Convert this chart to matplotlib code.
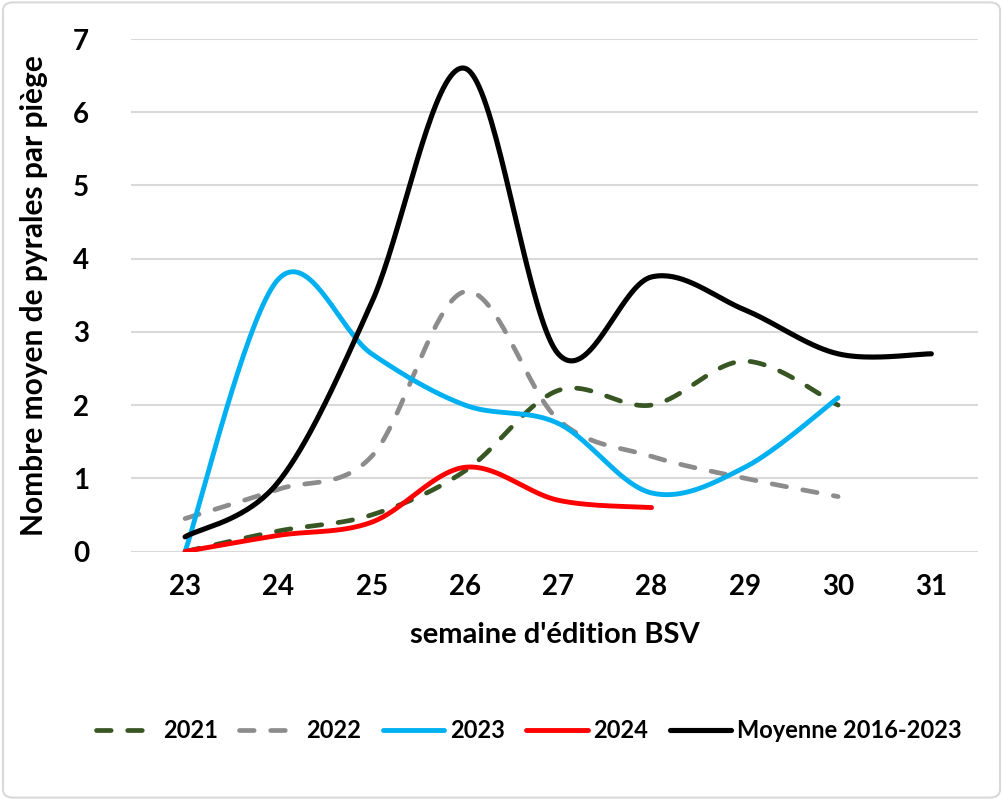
import numpy as np
import matplotlib
matplotlib.use("Agg")
import matplotlib.pyplot as plt
from matplotlib.patches import FancyBboxPatch

weeks = ["23", "24", "25", "26", "27", "28", "29", "30", "31"]
s2021 = [0.0, 0.28, 0.5, 1.1, 2.2, 2.0, 2.6, 2.0]
s2022 = [0.45, 0.85, 1.3, 3.55, 1.8, 1.3, 1.0, 0.75]
s2023 = [0.0, 3.72, 2.7, 2.0, 1.75, 0.8, 1.15, 2.1]
s2024 = [0.0, 0.22, 0.4, 1.15, 0.7, 0.6]
moyenne = [0.2, 0.95, 3.4, 6.6, 2.7, 3.75, 3.3, 2.7, 2.7]

plt.rcParams['font.family'] = ['Lato', 'DejaVu Sans']


def smooth(y, n=40):
    x = np.arange(len(y), dtype=float)
    y = np.asarray(y, dtype=float)
    P = np.column_stack([x, y])
    P = np.vstack([P[0], P, P[-1]])
    out = []
    t = np.linspace(0, 1, n)[:, None]
    for i in range(1, len(P) - 2):
        p0, p1, p2, p3 = P[i - 1], P[i], P[i + 1], P[i + 2]
        c1 = p1 + (p2 - p0) / 6
        c2 = p2 - (p3 - p1) / 6
        seg = ((1 - t) ** 3) * p1 + 3 * ((1 - t) ** 2) * t * c1 + 3 * (1 - t) * t ** 2 * c2 + t ** 3 * p2
        out.append(seg if i == 1 else seg[1:])
    out = np.vstack(out)
    return out[:, 0], out[:, 1]


fig = plt.figure(figsize=(10.03, 8.0), dpi=100)
ax = fig.add_axes([131 / 1003, 1 - 551.5 / 800, (978 - 131) / 1003, (551.5 - 39) / 800])

dash = (0, (3.1, 3.5))
series = [
    (s2021, "2021", "#375623", dash, 3.4),
    (s2022, "2022", "#8c8c8c", dash, 3.4),
    (s2023, "2023", "#00b0f0", "-", 3.5),
    (s2024, "2024", "#ff0000", "-", 3.5),
    (moyenne, "Moyenne 2016-2023", "#000000", "-", 3.7),
]
for vals, lab, col, ls, lw in series:
    xs, ys = smooth(vals)
    ax.plot(xs, ys, color=col, linestyle=ls, linewidth=lw, label=lab,
            solid_capstyle='round', dash_capstyle='round')

ax.set_xlim(-0.58, len(weeks) - 0.5)
ax.set_ylim(0, 7)
ax.set_xticks(range(len(weeks)))
ax.set_xticklabels(weeks)
ax.set_yticks(range(0, 8))
ax.grid(axis='y', color='#d9d9d9', linewidth=1.5)
ax.set_axisbelow(True)
for sp in ax.spines.values():
    sp.set_visible(False)
ax.tick_params(axis='both', length=0, labelsize=20)
ax.tick_params(axis='x', pad=16)
ax.tick_params(axis='y', pad=30)
for lbl in ax.get_xticklabels() + ax.get_yticklabels():
    lbl.set_fontweight('bold')

ax.set_xlabel("semaine d'édition BSV", fontsize=21, fontweight='bold', labelpad=16)
ax.set_ylabel("Nombre moyen de pyrales par piège", fontsize=21.5, fontweight='bold', labelpad=18)

leg = fig.legend(loc='center', bbox_to_anchor=(0.527, 1 - 731 / 800), ncol=5, frameon=False,
                 prop={'size': 17, 'weight': 'bold'}, handlelength=2.6, columnspacing=0.9,
                 handletextpad=0.25)

border = FancyBboxPatch((0.003, 0.003), 0.994, 0.994, boxstyle="round,pad=0,rounding_size=0.01",
                        transform=fig.transFigure, facecolor='none', edgecolor='#d9d9d9', linewidth=1.5)
fig.patches.append(border)

fig.savefig("out.png", dpi=100)
